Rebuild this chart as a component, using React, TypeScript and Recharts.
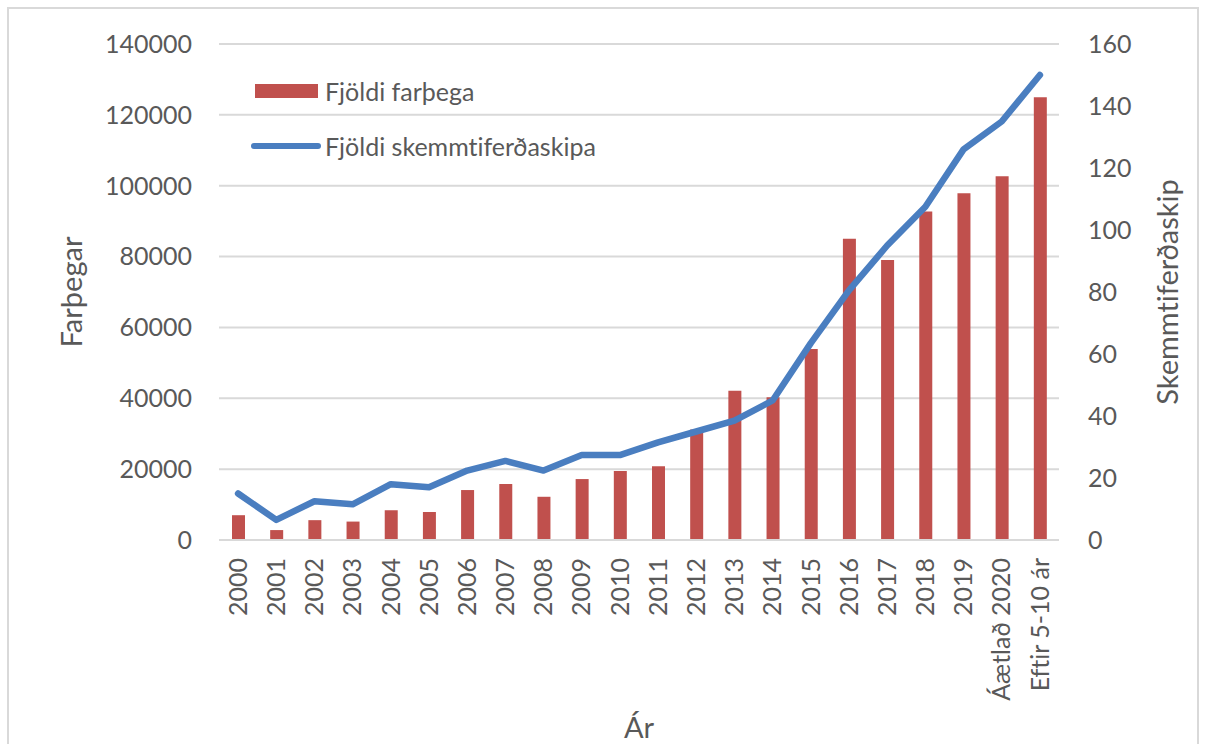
import {
  Bar,
  CartesianGrid,
  ComposedChart,
  Line,
  XAxis,
  YAxis,
} from "recharts";

const years = [
  "2000", "2001", "2002", "2003", "2004", "2005", "2006", "2007", "2008", "2009", "2010",
  "2011", "2012", "2013", "2014", "2015", "2016", "2017", "2018", "2019", "Áætlað 2020", "Eftir 5-10 ár",
];
const passengers = [
  7000, 2800, 5600, 5200, 8400, 7900, 14100, 15800, 12200, 17200, 19500,
  20800, 31200, 42100, 40300, 53900, 85000, 79000, 92700, 97900, 102700, 125000,
];
const ships = [
  15, 6.5, 12.5, 11.5, 18, 17, 22.4, 25.5, 22.4, 27.4, 27.4,
  31.5, 35, 38.5, 45, 63.5, 80.5, 95, 107.5, 126, 135, 150,
];
const leftTicks = [0, 20000, 40000, 60000, 80000, 100000, 120000, 140000];
const rightTicks = [0, 20, 40, 60, 80, 100, 120, 140, 160];

const RED = "#C0504D";
const BLUE = "#4A7EC0";
const TEXT = "#595959";
const GRID = "#D9D9D9";
const FONT = "Lato, 'Liberation Sans', sans-serif";
const noLig = { fontVariantLigatures: "none" } as const;

const data = years.map((y, i) => ({ year: y, passengers: passengers[i], ships: ships[i] }));

const XTick = ({ x, y, payload }: any) => (
  <text
    x={x}
    y={y}
    transform={`rotate(-90, ${x}, ${y})`}
    textAnchor="end"
    dy="0.35em"
    fill={TEXT}
    fontSize={25}
    fontFamily={FONT}
    style={noLig}
  >
    {payload.value}
  </text>
);

const LegendBox = () => (
  <div
    style={{
      position: "absolute",
      left: 255,
      top: 76,
      fontFamily: FONT,
      fontSize: 25,
      color: TEXT,
      lineHeight: "30px",
      ...noLig,
    }}
  >
    <div style={{ display: "flex", alignItems: "center", height: 30 }}>
      <span style={{ display: "inline-block", width: 63, height: 14, background: RED, marginRight: 7 }} />
      Fjöldi farþega
    </div>
    <div style={{ display: "flex", alignItems: "center", height: 30, marginTop: 25 }}>
      <span
        style={{ display: "inline-block", width: 70, height: 6, borderRadius: 3, background: BLUE, marginRight: 4, marginLeft: -4 }}
      />
      Fjöldi skemmtiferðaskipa
    </div>
  </div>
);

const axisTitle = (text: string, dx: number, rotate: boolean, dy = 0) =>
  ({ viewBox }: any) => {
    const cx = viewBox.x + (rotate ? dx : viewBox.width / 2);
    const cy = viewBox.y + (rotate ? viewBox.height / 2 : dy);
    return (
      <text
        x={cx}
        y={cy}
        transform={rotate ? `rotate(-90, ${cx}, ${cy})` : undefined}
        textAnchor="middle"
        dominantBaseline="central"
        fill={TEXT}
        fontSize={29}
        fontFamily={FONT}
        style={noLig}
      >
        {text}
      </text>
    );
  };

export default function App() {
  return (
    <div style={{ position: "absolute", left: 0, top: 0, width: 1206, height: 744, background: "#fff", overflow: "hidden" }}>
      <div
        style={{
          position: "absolute",
          left: 7,
          top: 7,
          width: 1192,
          height: 760,
          border: `2px solid ${GRID}`,
          boxSizing: "border-box",
        }}
      />
      <div style={{ position: "absolute", left: 0, top: 0 }}>
        <ComposedChart
          width={1206}
          height={744}
          data={data}
          margin={{ top: 44, right: 0, bottom: 0, left: 0 }}
          barSize={13}
        >
          <CartesianGrid yAxisId="left" vertical={false} stroke={GRID} strokeWidth={2} />
          <XAxis
            dataKey="year"
            height={204}
            interval={0}
            tickLine={false}
            axisLine={{ stroke: GRID, strokeWidth: 2 }}
            tickMargin={12}
            tick={<XTick />}
            label={{ content: axisTitle("Ár", 0, false, 186) }}
          />
          <YAxis
            yAxisId="left"
            width={219}
            domain={[0, 140000]}
            ticks={leftTicks}
            axisLine={false}
            tickLine={false}
            tickMargin={21}
            tick={{ fill: TEXT, fontSize: 25, fontFamily: FONT }}
            label={{ content: axisTitle("Farþegar", 70, true) }}
          />
          <YAxis
            yAxisId="right"
            orientation="right"
            width={147}
            domain={[0, 160]}
            ticks={rightTicks}
            axisLine={false}
            tickLine={false}
            tickMargin={23}
            tick={{ fill: TEXT, fontSize: 25, fontFamily: FONT }}
            label={{ content: axisTitle("Skemmtiferðaskip", 107, true) }}
          />
          <Bar yAxisId="left" dataKey="passengers" name="Fjöldi farþega" fill={RED} isAnimationActive={false} />
          <Line
            yAxisId="right"
            dataKey="ships"
            name="Fjöldi skemmtiferðaskipa"
            stroke={BLUE}
            strokeWidth={6.5}
            strokeLinecap="round"
            strokeLinejoin="round"
            dot={false}
            type="linear"
            isAnimationActive={false}
          />
        </ComposedChart>
      </div>
      <LegendBox />
    </div>
  );
}
